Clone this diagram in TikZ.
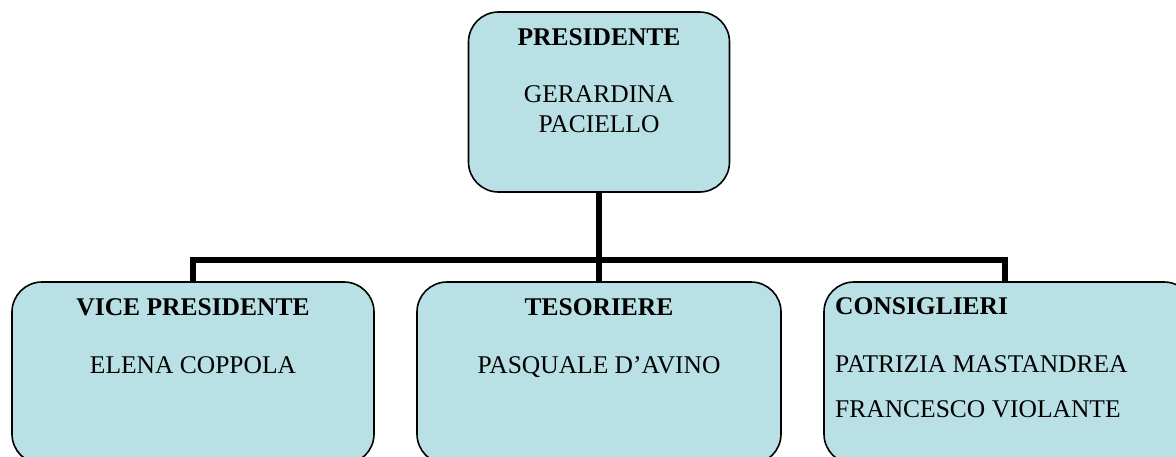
\documentclass[tikz,border=0pt]{standalone}
\usepackage{fontspec}
\setmainfont{Liberation Serif}
\definecolor{boxfill}{RGB}{185,224,228}
\tikzset{
  orgbox/.style={draw=black, line width=1.6pt, fill=boxfill, rounded corners=30pt, inner sep=0pt},
  link/.style={line width=6pt, draw=black},
  ttl/.style={font=\fontsize{25.5}{30}\selectfont\bfseries, inner sep=0pt, anchor=base},
  nm/.style={font=\fontsize{25.5}{30}\selectfont, inner sep=0pt, anchor=base},
}
\begin{document}
\begin{tikzpicture}[x=1pt,y=-1pt]
\useasboundingbox (0,0) rectangle (1176,456);
\clip (0,0) rectangle (1176,456);
% boxes
\node[orgbox, minimum width=261pt, minimum height=180pt] (pres) at (599,102) {};
\node[orgbox, minimum width=362pt, minimum height=182pt] (vice) at (193,373) {};
\node[orgbox, minimum width=364pt, minimum height=182pt] (tes) at (599,373) {};
\node[orgbox, minimum width=370pt, minimum height=182pt] (cons) at (1009,373) {};
% connectors
\coordinate (bar) at (599,260);
\draw[link] (pres.south) -- (bar);
\draw[link] (vice.north) |- (bar) -| (cons.north -| 1005,0);
\draw[link] (bar) -- (tes.north);
% texts
\node[ttl] (presT) at (599,45) {PRESIDENTE};
\node[nm] (presN1) at (599,102) {GERARDINA};
\node[nm] (presN2) at (599,132) {PACIELLO};
\node[ttl] (viceT) at (193,315) {VICE PRESIDENTE};
\node[nm] (viceN) at (193,373) {ELENA COPPOLA};
\node[ttl] (tesT) at (599,315) {TESORIERE};
\node[nm] (tesN) at (599,373) {PASQUALE D’AVINO};
\node[ttl, anchor=base west] (consT) at (835,314) {CONSIGLIERI};
\node[nm, anchor=base west] (consN1) at (835,372) {PATRIZIA MASTANDREA};
\node[nm, anchor=base west] (consN2) at (835,417) {FRANCESCO VIOLANTE};
\end{tikzpicture}
\end{document}
